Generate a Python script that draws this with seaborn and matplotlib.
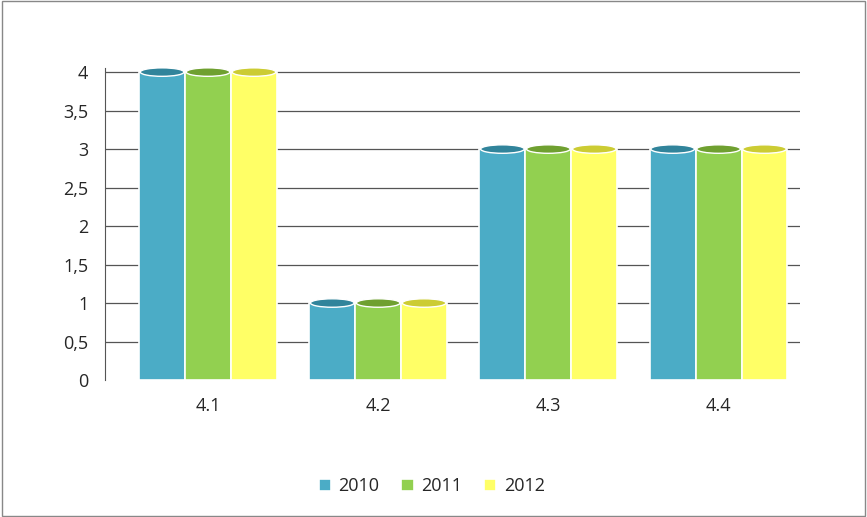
import pandas as pd
import numpy as np
import seaborn as sns
import matplotlib.pyplot as plt
from matplotlib.patches import Ellipse

categories = ['4.1', '4.2', '4.3', '4.4']
years = ['2010', '2011', '2012']
v2010 = [4, 1, 3, 3]
v2011 = [4, 1, 3, 3]
v2012 = [4, 1, 3, 3]

df = pd.DataFrame({
    'cat': categories * 3,
    'year': [y for y in years for _ in categories],
    'val': v2010 + v2011 + v2012,
})
colors = ['#4BACC6', '#92D050', '#FFFF66']

sns.set_style('white')
plt.rcParams['font.family'] = ['Open Sans', 'DejaVu Sans']

fig = plt.figure(figsize=(8.67, 5.17), dpi=100)
ax = fig.add_axes([0.121, 0.265, 0.802, 0.603])
sns.barplot(data=df, x='cat', y='val', hue='year', palette=colors,
            width=0.81, ax=ax, edgecolor='white', linewidth=1.2, saturation=1, legend=True)

ax.set_ylim(0, 4.05)
ax.set_xlim(-0.606, 3.48)
ax.set_yticks(np.arange(0, 4.01, 0.5))
ax.set_yticklabels([('%g' % t).replace('.', ',') for t in np.arange(0, 4.01, 0.5)])
for t in np.arange(0.5, 4.01, 0.5):
    ax.axhline(t, color='#555555', lw=0.9, zorder=0)
for s in ['top', 'right', 'bottom']:
    ax.spines[s].set_visible(False)
ax.spines['left'].set_color('#555555')
ax.tick_params(axis='both', length=0, labelsize=13, pad=12)
ax.set_xlabel('')
ax.set_ylabel('')

# cylinder caps
dark = ['#31849B', '#6FA030', '#CCCC33']
for i, cont in enumerate(ax.containers):
    for p in cont:
        x, w, h = p.get_x(), p.get_width(), p.get_height()
        ax.add_patch(Ellipse((x + w / 2, h), w * 0.95, 0.11, facecolor=dark[i],
                             edgecolor='white', lw=1, zorder=5))

ax.legend(loc='upper center', bbox_to_anchor=(0.47, -0.26), ncol=3, frameon=False,
          fontsize=13, handlelength=0.7, handleheight=0.7, columnspacing=1.2,
          handletextpad=0.4)

fig.patches.append(plt.Rectangle((0.002, 0.002), 0.996, 0.996, transform=fig.transFigure,
                                 fill=False, edgecolor='#888888', lw=1))
fig.savefig('out.png', dpi=100)
